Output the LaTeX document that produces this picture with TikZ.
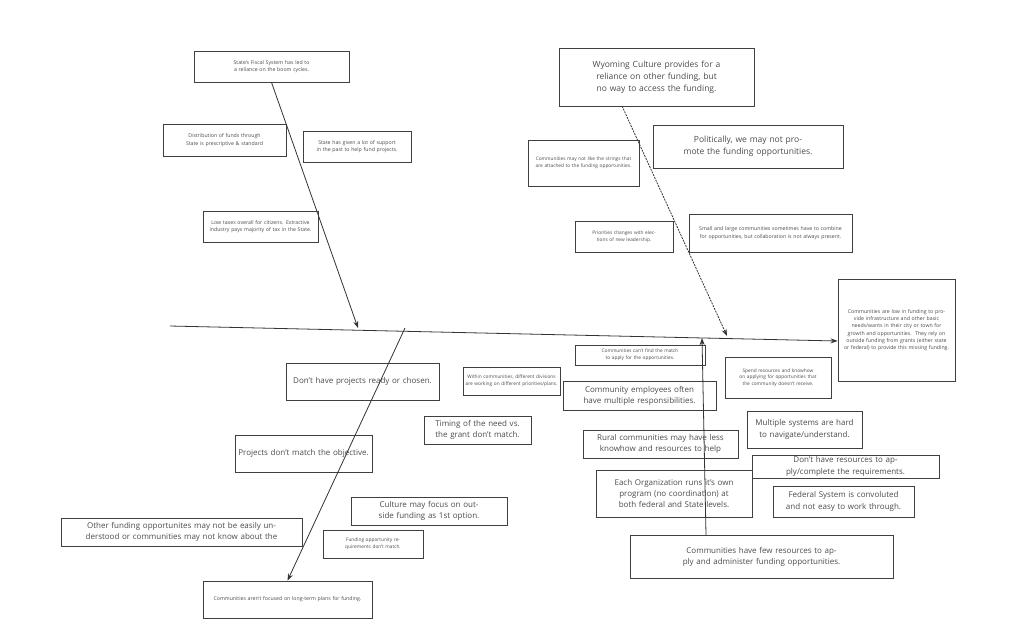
\documentclass[tikz,border=0pt]{standalone}
\usepackage{fontspec}
\setmainfont{Open Sans}
\usetikzlibrary{arrows.meta}
\tikzset{
  bx/.style={draw=black!75, line width=0.8pt, inner sep=1pt, align=center, text=black!70},
  bone/.style={draw=black!80, line width=0.8pt, -{Stealth[length=7pt,width=5pt]}},
}
\newcommand{\bx}[7]{%
  \pgfmathsetmacro{\bxw}{#4-#2}\pgfmathsetmacro{\bxh}{#5-#3}%
  \pgfmathsetmacro{\bxcx}{(#2+#4)/2}\pgfmathsetmacro{\bxcy}{(#3+#5)/2}%
  \pgfmathsetmacro{\bxtw}{#4-#2-3}\pgfmathsetmacro{\bxbs}{#6*1.4}%
  \node[bx, minimum width=\bxw pt, minimum height=\bxh pt, text width=\bxtw pt, font=\fontsize{#6pt}{\bxbs pt}\selectfont] (#1) at (\bxcx,\bxcy) {#7};}
\begin{document}
\begin{tikzpicture}[x=1pt,y=-1pt]
\useasboundingbox (0,0) rectangle (1024,625);
\fill[white] (0,0) rectangle (1024,625);
% boxes
\bx{fiscal}{194}{51}{349}{82}{5.2}{State's Fiscal System has led to a reliance on the boom cycles.}
\bx{distr}{163}{124}{286}{156}{5.2}{Distribution of funds through State is prescriptive \& standard}
\bx{given}{303}{131}{411}{162}{5.2}{State has given a lot of support in the past to help fund projects.}
\bx{taxes}{203}{211}{318}{242}{5.2}{Low taxes overall for citizens. Extractive industry pays majority of tax in the State.}
\bx{wyo}{559}{48}{754}{106}{8.5}{Wyoming Culture provides for a reliance on other funding, but no way to access the funding.}
\bx{strings}{528}{140}{639}{186}{4.8}{Communities may not like the strings that are attached to the funding opportunities.}
\bx{polit}{653}{125}{843}{168}{8.5}{Politically, we may not promote the funding opportunities.}
\bx{prio}{575}{221}{673}{252}{4.8}{Priorities changes with elections of new leadership.}
\bx{small}{689}{214}{852}{252}{5.2}{Small and large communities sometimes have to combine for opportunities, but collaboration is not always present.}
\bx{head}{838}{279}{955}{381}{5.2}{Communities are low in funding to provide infrastructure and other basic needs/wants in their city or town for growth and opportunities.\ \ They rely on outside funding from grants (either state or federal) to provide this missing funding.}
\bx{match}{575}{345}{705}{365}{4.8}{Communities can't find the match to apply for the opportunities.}
\bx{spend}{725}{357}{831}{398}{4.8}{Spend resources and knowhow on applying for opportunities that the community doesn't receive.}
\bx{within}{463}{367}{560}{395}{4.8}{Within communities, different divisions are working on different priorities/plans.}
\bx{employ}{563}{381}{716}{410}{8}{Community employees often have multiple responsibilities.}
\bx{ready}{286}{363}{439}{400}{8}{Don't have projects ready or chosen.}
\bx{timing}{424}{416}{531}{444}{8}{Timing of the need vs. the grant don't match.}
\bx{rural}{583}{430}{738}{458}{8}{Rural communities may have less knowhow and resources to help}
\bx{multi}{747}{411}{862}{448}{8}{Multiple systems are hard to navigate/understand.}
\bx{objective}{235}{435}{372}{472}{8}{Projects don't match the objective.}
\bx{dontres}{752}{455}{939}{478}{8}{Don't have resources to apply/complete the requirements.}
\bx{eachorg}{596}{470}{752}{517}{8}{Each Organization runs it's own program (no coordination) at both federal and State levels.}
\bx{federal}{773}{486}{914}{517}{8}{Federal System is convoluted and not easy to work through.}
\bx{culture}{351}{497}{507}{525}{8}{Culture may focus on outside funding as 1st option.}
\bx{other}{61}{518}{302}{546}{8}{Other funding opportunites may not be easily understood or communities may not know about the}
\bx{req}{323}{530}{423}{558}{4.8}{Funding opportunity requirements don't match.}
\bx{longterm}{203}{581}{372}{618}{5.2}{Communities aren't focused on long-term plans for funding.}
\bx{few}{630}{535}{893}{578}{8}{Communities have few resources to apply and administer funding opportunities.}
% spine
\coordinate (tail) at (170,326);
\draw[bone] (tail) -- (head.west |- 0,341);
% bones
\coordinate (s1) at (358,328);
\draw[bone] (fiscal.south) -- (s1);
\coordinate (s2) at (727,336);
\coordinate (w1) at (622,106);
\draw[bone, dash pattern=on 2pt off 1pt] (w1) -- (s2);
\coordinate (b1) at (405,328);
\draw[bone] (b1) -- (longterm.north);
\coordinate (s3) at (702,338);
\coordinate (f1) at (706,535);
\draw[bone] (f1) -- (s3);
\end{tikzpicture}
\end{document}
